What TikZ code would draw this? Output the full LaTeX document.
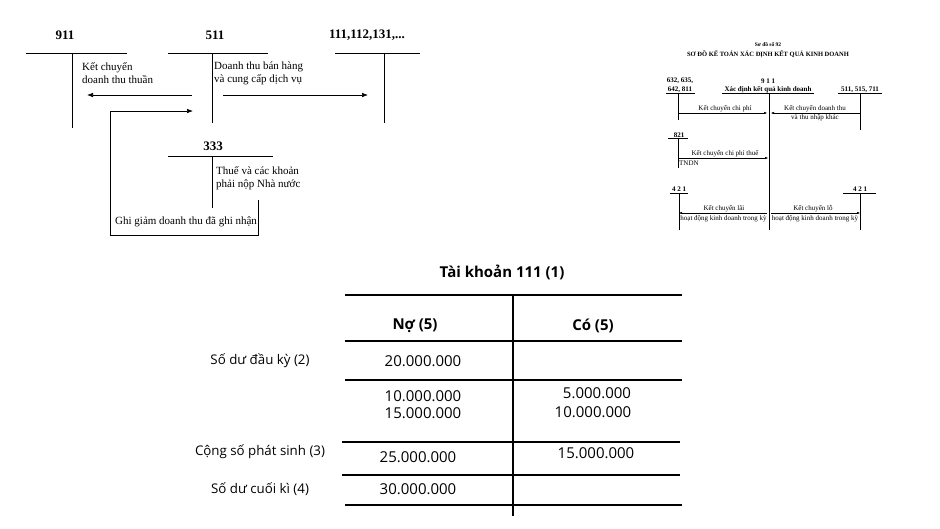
\documentclass[tikz,border=0pt]{standalone}
\usepackage{fontspec}
\setmainfont{Liberation Serif}
\newfontfamily\tablefont{Open Sans}
\usetikzlibrary{arrows.meta}
\tikzset{
  acct/.style={font=\fontsize{13}{15}\selectfont\bfseries},
  note/.style={font=\fontsize{11}{13}\selectfont, align=left, anchor=west, inner sep=0pt},
  small/.style={font=\fontsize{7}{8}\selectfont, inner sep=0pt},
  smallbf/.style={font=\fontsize{7}{8}\selectfont\bfseries, inner sep=0pt},
  rowlab/.style={font=\tablefont\fontsize{13.3}{16}\selectfont, inner sep=0pt},
  cell/.style={font=\tablefont\fontsize{15}{18}\selectfont, inner sep=0pt},
  cellbf/.style={font=\tablefont\fontsize{15}{18}\selectfont\bfseries, inner sep=0pt},
  tline/.style={line width=2.5pt},
  flow/.style={-{Latex[length=6pt,width=4.5pt]}, line width=0.6pt},
  sflow/.style={-{Latex[length=3pt,width=2.5pt]}, line width=0.4pt},
}
\begin{document}
\begin{tikzpicture}[x=1pt,y=-1pt]
\useasboundingbox (0,0) rectangle (940,528);

\node[acct] (n911) at (65,35) {911};
\draw (26,53) -- (127,53);
\draw (72,53) -- (72,128);

\node[acct] (n511) at (215,35) {511};
\draw (168,53) -- (268,53);
\draw (212,53) -- (212,123);

\node[acct] (n111) at (367,35) {111,112,131,...};
\draw (335,53) -- (420,53);
\draw (384,53) -- (384,123);

\node[note] (kc) at (82,73.5) {Kết chuyển\\doanh thu thuần};
\node[note] (dt) at (214,73.5) {Doanh thu bán hàng\\và cung cấp dịch vụ};
\coordinate (kcA) at (192,95);
\coordinate (kcB) at (87,95);
\draw[flow] (kcA) -- (kcB);
\coordinate (dtA) at (223,95);
\coordinate (dtB) at (368,95);
\draw[flow] (dtA) -- (dtB);

\node[acct] (n333) at (213,146) {333};
\draw (168,156) -- (273,156);
\draw (212,156) -- (212,208);
\node[note] (thue) at (216,178.5) {Thuế và các khoản\\phải nộp Nhà nước};

\node[note] (gg) at (115,222) {Ghi giảm doanh thu đã ghi nhận};
\coordinate (ggA) at (258,200);
\coordinate (ggC) at (110,235);
\coordinate (ggB) at (193,111);
\draw[flow] (ggA) |- (ggC) |- (ggB);

\node[font=\fontsize{5.5}{6}\selectfont\bfseries] (sd) at (768,45) {Sơ đồ số 92};
\node[font=\fontsize{6.5}{7}\selectfont\bfseries] (sdt) at (768,54) {SƠ ĐỒ KẾ TOÁN XÁC ĐỊNH KẾT QUẢ KINH DOANH};

\node[smallbf] (c632) at (680,81) {632, 635,};
\node[smallbf] (c642) at (680,90) {642, 811};
\draw[line width=0.5pt] (666,93) -- (695,93);
\draw[line width=0.5pt] (678,93) -- (678,120);

\node[smallbf] (c911) at (768,81) {9 1 1};
\node[smallbf] (c911t) at (768,89.5) {Xác định kết quả kinh doanh};
\draw[line width=0.5pt] (722,93) -- (814,93);
\draw[line width=0.8pt] (769,93) -- (769,230);

\node[smallbf] (c511) at (860,89.5) {511, 515, 711};
\draw[line width=0.5pt] (838,93) -- (882,93);
\draw[line width=0.5pt] (860,93) -- (860,130);

\node[small] (kcp) at (725,109) {Kết chuyển chi phí};
\coordinate (kcpA) at (678,113);
\coordinate (kcpB) at (767,113);
\draw[sflow] (kcpA) -- (kcpB);
\node[small] (kcd) at (815,109) {Kết chuyển doanh thu};
\node[small] (kcd2) at (815,117.5) {và thu nhập khác};
\coordinate (kcdA) at (860,113);
\coordinate (kcdB) at (771,113);
\draw[sflow] (kcdA) -- (kcdB);

\node[smallbf] (c821) at (679,135) {821};
\draw[line width=0.5pt] (668,138) -- (688,138);
\draw[line width=0.5pt] (678,138) -- (678,168);
\node[small] (kct) at (725,154) {Kết chuyển chi phí thuế};
\node[small, anchor=west] (tndn) at (679,163.5) {TNDN};
\coordinate (kctA) at (678,158);
\coordinate (kctB) at (768,158);
\draw[sflow] (kctA) -- (kctB);

\node[smallbf] (c421a) at (679,189.5) {4 2 1};
\draw[line width=0.5pt] (670,193) -- (688,193);
\draw[line width=0.5pt] (679,193) -- (679,230);
\node[smallbf] (c421b) at (860,189.5) {4 2 1};
\draw[line width=0.5pt] (843,193) -- (876,193);
\draw[line width=0.5pt] (860,193) -- (860,230);

\node[small] (kcl) at (724,208.5) {Kết chuyển lãi};
\node[small] (hd1) at (723.5,218.5) {hoạt động kinh doanh trong kỳ};
\coordinate (kclA) at (767,213);
\coordinate (kclB) at (679,213);
\draw[sflow] (kclA) -- (kclB);
\node[small] (kcx) at (813,208.5) {Kết chuyển lỗ};
\node[small] (hd2) at (815,218.5) {hoạt động kinh doanh trong kỳ};
\coordinate (kcxA) at (771,213);
\coordinate (kcxB) at (860,213);
\draw[sflow] (kcxA) -- (kcxB);

\node[cellbf] (tk) at (502,272) {Tài khoản 111 (1)};
\draw[tline] (345,295) -- (682,295);
\draw[tline] (513,295) -- (513,516);
\node[cellbf] (no) at (415,326) {Nợ (5)};
\node[cellbf] (co) at (593,326) {Có (5)};
\draw[tline] (345,341) -- (682,341);

\node[rowlab] (r2) at (260,361) {Số dư đầu kỳ (2)};
\node[cell] (v1) at (423,361) {20.000.000};
\draw[tline] (345,380) -- (682,380);

\node[cell] (v2) at (423,396) {10.000.000};
\node[cell] (v3) at (423,413) {15.000.000};
\node[cell] (v4) at (597,393) {5.000.000};
\node[cell] (v5) at (593,412) {10.000.000};
\draw[tline] (342,442) -- (680,442);

\node[rowlab] (r3) at (260,452) {Cộng số phát sinh (3)};
\node[cell] (v6) at (418,457) {25.000.000};
\node[cell] (v7) at (596,453) {15.000.000};
\draw[tline] (342,475) -- (680,475);

\node[rowlab] (r4) at (260,489) {Số dư cuối kì (4)};
\node[cell] (v8) at (418,489) {30.000.000};
\draw[tline] (345,505) -- (682,505);
\end{tikzpicture}
\end{document}
